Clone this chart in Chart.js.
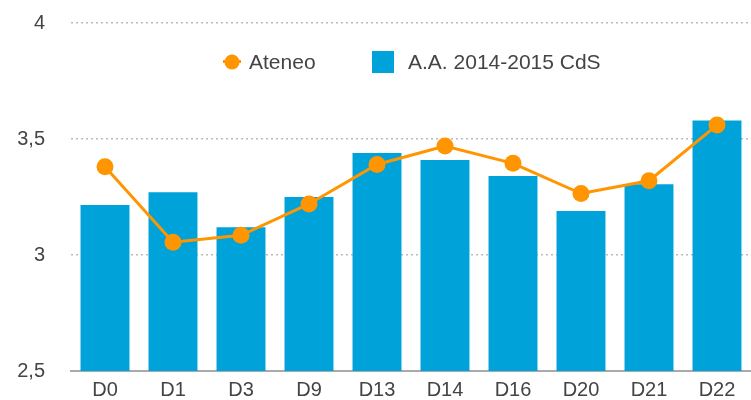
<!DOCTYPE html>
<html>
<head>
<meta charset="utf-8">
<script src="https://cdn.jsdelivr.net/npm/chart.js@4.4.0/dist/chart.umd.min.js"></script>
<style>
  html, body { margin: 0; padding: 0; background: #fff; overflow: hidden; }
  canvas { display: block; }
</style>
</head>
<body>
<canvas id="myChart" width="751" height="400"></canvas>
<script>
// chart data
var categories = ['D0', 'D1', 'D3', 'D9', 'D13', 'D14', 'D16', 'D20', 'D21', 'D22'];
var cdsValues = [3.215, 3.27, 3.12, 3.25, 3.44, 3.41, 3.34, 3.19, 3.305, 3.58];
var ateneoValues = [3.38, 3.055, 3.085, 3.22, 3.39, 3.47, 3.395, 3.265, 3.32, 3.56];
var yTicks = [2.5, 3, 3.5, 4];

var orange = '#ff9500';
var blue = '#00a3d9';
var textColor = '#444';
var fontFamily = '"Liberation Sans", Arial, sans-serif';

// legend drawn inside the plot area
var innerLegend = {
    id: 'innerLegend',
    afterDraw: function (chart) {
        var ctx = chart.ctx;
        var y = 62;
        ctx.save();
        ctx.font = '21px ' + fontFamily;
        ctx.textBaseline = 'middle';

        // Ateneo marker
        ctx.fillStyle = orange;
        ctx.beginPath();
        ctx.arc(232, y, 7.5, 0, Math.PI * 2);
        ctx.fill();
        ctx.fillRect(223, y - 2, 18, 3);
        ctx.fillStyle = textColor;
        ctx.fillText(chart.data.datasets[0].label, 249, y + 1);

        // bar marker
        ctx.fillStyle = blue;
        ctx.fillRect(372, y - 11, 22, 22);
        ctx.fillStyle = textColor;
        ctx.fillText(chart.data.datasets[1].label, 408, y + 1);
        ctx.restore();
    }
};

var ctx = document.getElementById('myChart').getContext('2d');
var myChart = new Chart(ctx, {
    type: 'bar',
    data: {
        labels: categories,
        datasets: [{
            type: 'line',
            label: 'Ateneo',
            data: ateneoValues,
            borderColor: orange,
            backgroundColor: orange,
            borderWidth: 3,
            pointRadius: 8.5,
            pointHoverRadius: 8.5,
            pointBorderWidth: 0,
            tension: 0,
            order: 0
        }, {
            type: 'bar',
            label: 'A.A. 2014-2015 CdS',
            data: cdsValues,
            backgroundColor: blue,
            categoryPercentage: 0.72,
            barPercentage: 1.0,
            order: 1
        }]
    },
    options: {
        responsive: false,
        animation: false,
        layout: {
            autoPadding: false,
            padding: { top: 23, right: 0, left: 0, bottom: 0 }
        },
        plugins: {
            legend: { display: false },
            tooltip: { enabled: false }
        },
        scales: {
            x: {
                grid: { display: false, drawTicks: false },
                border: { display: true, color: '#aaa', width: 2 },
                afterFit: function (scale) {
                    scale.height = 29;
                    scale.paddingLeft = 0;
                    scale.paddingRight = 0;
                },
                ticks: {
                    color: textColor,
                    font: { family: fontFamily, size: 20 },
                    padding: 7
                }
            },
            y: {
                min: 2.5,
                max: 4,
                afterFit: function (scale) {
                    scale.width = 71;
                    scale.paddingTop = 0;
                    scale.paddingBottom = 0;
                },
                afterBuildTicks: function (scale) {
                    scale.ticks = yTicks.map(function (v) { return { value: v }; });
                },
                grid: {
                    color: '#bbb',
                    drawTicks: false,
                    lineWidth: 1.5
                },
                border: { display: false, dash: [2, 3] },
                ticks: {
                    color: textColor,
                    font: { family: fontFamily, size: 20 },
                    padding: 26,
                    callback: function (value) {
                        return String(value).replace('.', ',');
                    }
                }
            }
        }
    },
    plugins: [innerLegend]
});
</script>
</body>
</html>
